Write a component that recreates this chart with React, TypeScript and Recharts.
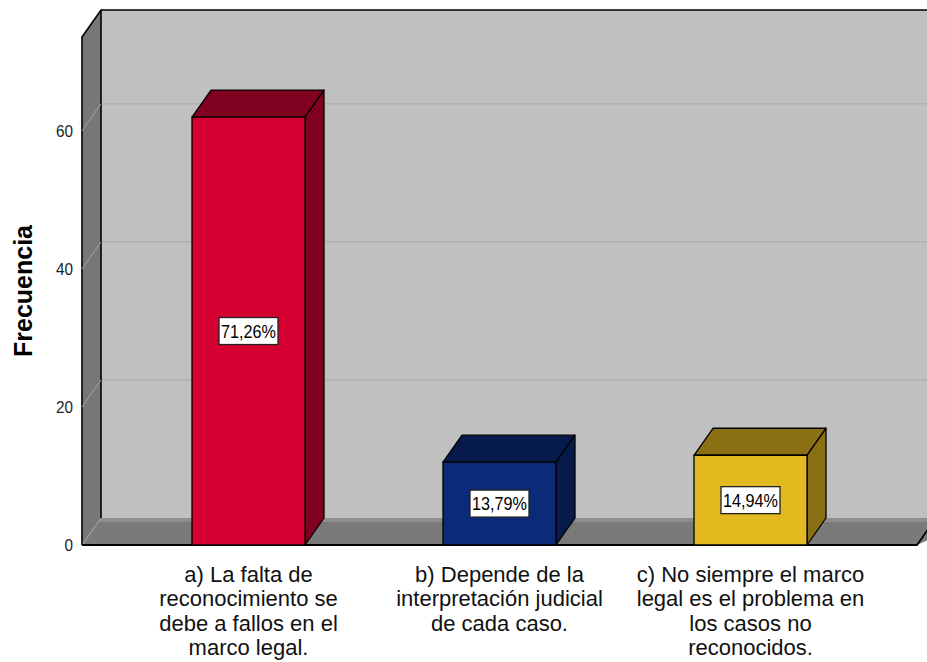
import React from 'react';
import { BarChart, Bar, XAxis, YAxis, ReferenceArea, ReferenceLine, LabelList } from 'recharts';

// values (N = 87)
const categories = [
  'a) La falta de reconocimiento se debe a fallos en el marco legal.',
  'b) Depende de la interpretación judicial de cada caso.',
  'c) No siempre el marco legal es el problema en los casos no reconocidos.',
];
const categoryLines = [
  ['a) La falta de', 'reconocimiento se', 'debe a fallos en el', 'marco legal.'],
  ['b) Depende de la', 'interpretación judicial', 'de cada caso.'],
  ['c) No siempre el marco', 'legal es el problema en', 'los casos no', 'reconocidos.'],
];
const frequencies = [62, 12, 13];
const percentLabels = ['71,26%', '13,79%', '14,94%'];
const yTicks = [0, 20, 40, 60];
const gridValues = [0, 20, 40, 60];
const Y_MAX = 73.6;

const FRONT = ['#d50032', '#0b2a78', '#e2ba1f'];
const SIDE = ['#80001f', '#061a4b', '#8a7013'];

// 3d depth offset and how far the walls run past the category bands
const DX = 19;
const DY = 27;
const EXT = 41;
const FONT = 'Arial, "Liberation Sans", sans-serif';
// the spss text is a bit narrower than plain arial
const SQUEEZE = 0.9;

const squeezeAt = (x: number) => `translate(${x} 0) scale(${SQUEEZE} 1) translate(${-x} 0)`;

const data = categories.map((name, i) => ({
  name,
  value: frequencies[i],
  pct: percentLabels[i],
}));

const Bar3D = (props: any) => {
  const { x, y, width, height, index } = props;
  const front = FRONT[index] || '#888';
  const side = SIDE[index] || '#444';
  const r = x + width;
  const b = y + height;
  return (
    <g stroke="#000" strokeWidth={1.3} strokeLinejoin="round">
      <polygon points={`${x},${y} ${x + DX},${y - DY} ${r + DX},${y - DY} ${r},${y}`} fill={side} />
      <polygon points={`${r},${y} ${r + DX},${y - DY} ${r + DX},${b - DY} ${r},${b}`} fill={side} />
      <rect x={x} y={y} width={width} height={height} fill={front} />
    </g>
  );
};

const Walls = (props: any) => {
  const { x, y, width, height } = props;
  const l = x - EXT;
  const r = x + width + EXT;
  const b = y + height;
  return (
    <g>
      <rect x={l + DX} y={y - DY} width={r - l + 40} height={height} fill="#c0c0c0" />
      <polygon points={`${l},${b} ${l + DX},${b - DY} ${r + DX + 40},${b - DY} ${r},${b}`} fill="#7a7a7a" />
      <polygon
        points={`${l + DX},${b - DY} ${r + DX + 40},${b - DY} ${r + DX + 37},${b - DY + 4} ${l + DX - 3},${b - DY + 4}`}
        fill="#8e8e8e"
      />
      <polygon points={`${l},${y} ${l + DX},${y - DY} ${l + DX},${b - DY} ${l},${b}`} fill="#777" />
      <polyline
        points={`${l},${b} ${l},${y} ${l + DX},${y - DY} ${r + DX + 40},${y - DY}`}
        fill="none"
        stroke="#000"
        strokeWidth={1.6}
      />
      <line x1={l + DX} y1={y - DY} x2={l + DX} y2={b - DY} stroke="#000" strokeWidth={1.6} />
      <polyline points={`${l},${b} ${r},${b} ${r + DX},${b - DY}`} fill="none" stroke="#000" strokeWidth={1.8} />
    </g>
  );
};

const GridLine = (props: any) => {
  const { x1, y1, x2 } = props;
  const l = x1 - EXT;
  return (
    <g>
      <line x1={l} y1={y1} x2={l + DX} y2={y1 - DY} stroke="#a4a4a4" strokeWidth={1} />
      <line x1={l + DX + 1} y1={y1 - DY} x2={x2 + EXT + DX + 40} y2={y1 - DY} stroke="#a9a9a9" strokeWidth={1} />
    </g>
  );
};

const ZeroLine = (props: any) => {
  const { x1, y1 } = props;
  const l = x1 - EXT;
  return <line x1={l + 1} y1={y1 - 1} x2={l + DX} y2={y1 - DY} stroke="#a4a4a4" strokeWidth={1} />;
};

const CategoryTick = (props: any) => {
  const { x, y, index } = props;
  const lines = categoryLines[index] || [];
  return (
    <text x={x} y={y} textAnchor="middle" fill="#111" fontSize={22} fontFamily={FONT}>
      {lines.map((t, i) => (
        <tspan key={i} x={x} y={y + 37 + i * 24.3}>
          {t}
        </tspan>
      ))}
    </text>
  );
};

const ValueTick = (props: any) => {
  const { x, y, payload } = props;
  return (
    <text x={x} y={y} dy="0.355em" textAnchor="end" fill="#222" fontSize={17} fontFamily={FONT} transform={squeezeAt(x)}>
      {payload.value}
    </text>
  );
};

const PctLabel = (props: any) => {
  const { x, y, width, height, value } = props;
  const cx = x + width / 2;
  const cy = y + height / 2;
  const w = 59;
  const h = 27;
  return (
    <g>
      <rect x={cx - w / 2} y={cy - h / 2} width={w} height={h} fill="#fff" stroke="#222" strokeWidth={1.3} />
      <text x={cx} y={cy + 6.5} textAnchor="middle" fontSize={18} fontFamily={FONT} fill="#000" transform={squeezeAt(cx)}>
        {value}
      </text>
    </g>
  );
};

const YTitle = (props: any) => {
  const vb = props.viewBox || { x: 0, y: 37, height: 508 };
  const cx = vb.x + 22.5;
  const cy = vb.y + vb.height / 2;
  return (
    <text
      x={cx}
      y={cy}
      transform={`rotate(-90, ${cx}, ${cy})`}
      textAnchor="middle"
      dominantBaseline="central"
      fontSize={25}
      fontWeight="bold"
      fontFamily={FONT}
      fill="#000"
    >
      Frecuencia
    </text>
  );
};

export default function App() {
  return (
    <div style={{ position: 'absolute', left: 0, top: 0, width: 927, height: 662, background: '#fff' }}>
      <BarChart
        width={927}
        height={662}
        data={data}
        margin={{ top: 37, right: 51, bottom: 17, left: 0 }}
        style={{ fontFamily: FONT }}
      >
        <ReferenceArea y1={0} y2={Y_MAX} ifOverflow="visible" shape={<Walls />} zIndex={-60} />
        {gridValues.map((v) => (
          <ReferenceLine
            key={v}
            y={v}
            ifOverflow="visible"
            shape={v === 0 ? <ZeroLine /> : <GridLine />}
            zIndex={-50}
          />
        ))}
        <XAxis
          dataKey="name"
          axisLine={false}
          tickLine={false}
          tickSize={0}
          tickMargin={0}
          height={100}
          interval={0}
          tick={<CategoryTick />}
        />
        <YAxis
          type="number"
          domain={[0, Y_MAX]}
          ticks={yTicks}
          width={123}
          axisLine={false}
          tickLine={false}
          tickSize={0}
          tickMargin={50}
          tick={<ValueTick />}
          label={<YTitle />}
        />
        <Bar dataKey="value" barSize={113} isAnimationActive={false} shape={<Bar3D />}>
          <LabelList dataKey="pct" content={<PctLabel />} />
        </Bar>
      </BarChart>
    </div>
  );
}
